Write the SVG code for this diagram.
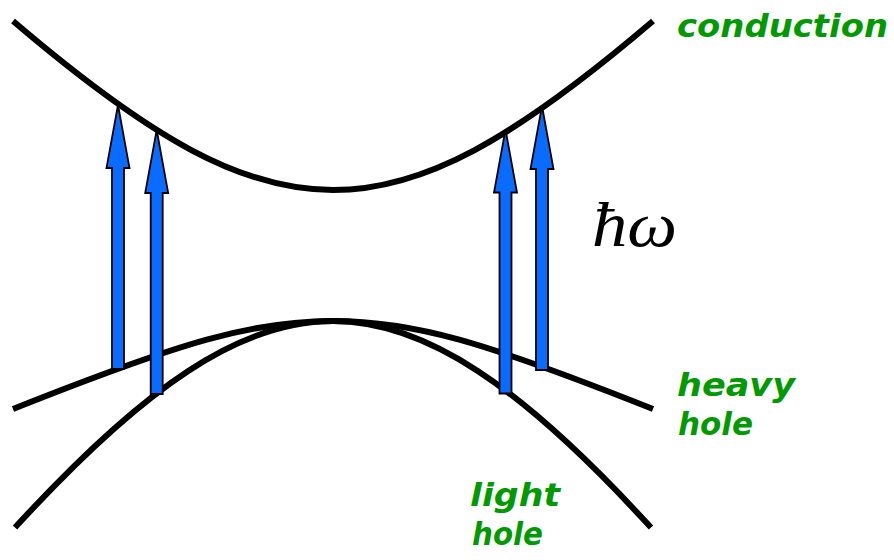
<svg xmlns="http://www.w3.org/2000/svg" xmlns:xlink="http://www.w3.org/1999/xlink" width="894" height="560" viewBox="0 0 894 560">
  <style>
    .band { fill: none; stroke: #000; stroke-width: 6; stroke-linecap: butt; }
    .arrow { fill: #0A6CFF; stroke: #000; stroke-width: 1.8; stroke-linejoin: miter; }
    .label { font-family: "DejaVu Sans", "Liberation Sans", sans-serif; font-weight: bold; font-style: italic; font-size: 32px; fill: #009900; }
    .sym { font-family: "Liberation Serif", "DejaVu Serif", serif; font-style: italic; font-size: 64px; fill: #000; }
  </style>
  <defs>
    <path id="up" d="M0,0 L11.5,63 L6,63 L6,264 L-6,264 L-6,63 L-11.5,63 Z"/>
  </defs>
  <rect width="894" height="560" fill="#fff"/>

  <g id="conduction-band">
    <path class="band" d="M13,21 C153,140.4 243,190 333,190 C423,190 513,140.4 653,21"/>
  </g>
  <g id="heavy-hole-band">
    <path class="band" d="M13,409 C183,341.4 253,321 333,321 C413,321 483,341.4 653,409"/>
  </g>
  <g id="light-hole-band">
    <path class="band" d="M15,527.6 C145,385.2 241,321 333,321 C425,321 521,385.2 651,527.6"/>
  </g>

  <g id="connectors">
    <use xlink:href="#up" class="arrow" transform="translate(118,105)"/>
    <use xlink:href="#up" class="arrow" transform="translate(156.7,130)"/>
    <use xlink:href="#up" class="arrow" transform="translate(505.5,129.5)"/>
    <use xlink:href="#up" class="arrow" transform="translate(542,106)"/>
  </g>

  <g id="label-conduction">
    <text class="label" x="677" y="37" textLength="211" lengthAdjust="spacingAndGlyphs">conduction</text>
  </g>
  <g id="label-heavy-hole">
    <text class="label" x="677" y="396" textLength="118" lengthAdjust="spacingAndGlyphs">heavy</text>
    <text class="label" x="678" y="435" textLength="75" lengthAdjust="spacingAndGlyphs">hole</text>
  </g>
  <g id="label-light-hole">
    <text class="label" x="470" y="506" textLength="90" lengthAdjust="spacingAndGlyphs">light</text>
    <text class="label" x="472" y="545" textLength="71" lengthAdjust="spacingAndGlyphs">hole</text>
  </g>
  <g id="label-hw">
    <text class="sym" x="592" y="246" textLength="85" lengthAdjust="spacingAndGlyphs">ħω</text>
  </g>
</svg>
